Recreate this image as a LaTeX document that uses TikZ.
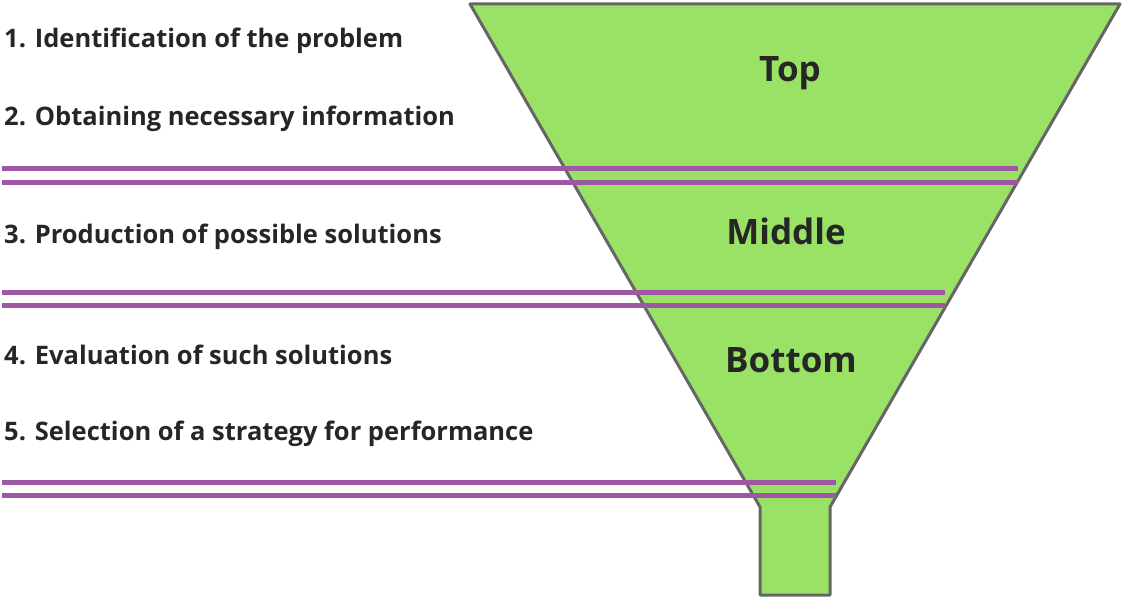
\documentclass[tikz,border=0pt]{standalone}
\usepackage{fontspec}
\setmainfont{Open Sans}
\usepackage{xcolor}
\definecolor{funnelgreen}{HTML}{99E265}
\definecolor{funnelgray}{HTML}{666666}
\definecolor{stagepurple}{HTML}{9E57A2}
\tikzset{>=latex}
\begin{document}
\begin{tikzpicture}[x=1pt, y=-1pt,
	stage/.style={anchor=west, font=\bfseries\fontsize{25.5}{30}\selectfont, text=black!85, inner sep=0pt},
	level/.style={font=\bfseries\fontsize{35}{40}\selectfont, text=black!85, inner sep=0pt},
	cut/.style={line width=5pt, draw=stagepurple}]
	\useasboundingbox (0,0) rectangle (1124,599);
	\coordinate[](a) at (470,4);
	\coordinate[](b) at (1120,4);
	\coordinate[](c) at (830,507);
	\coordinate[](d) at (760,507);

	% Funnel
	\filldraw[fill=funnelgreen, line width=3pt, draw=funnelgray, line join=round]
	(a) -- (b) -- (c) -- (830,595) -- (760,595) -- (d) -- cycle;

	% Levels
	\node[level] (top) at (790,73) {Top};
	\node[level] (middle) at (786,231) {Middle};
	\node[level] (bottom) at (791,360) {Bottom};

	% Steps
	\node[stage] (s1) at (4,41) {1. Identification of the problem};
	\node[stage] (s2) at (4,119) {2. Obtaining necessary information};
	\node[stage] (s3) at (4,237) {3. Production of possible solutions};
	\node[stage] (s4) at (4,355) {4. Evaluation of such solutions};
	\node[stage] (s5) at (4,434) {5. Selection of a strategy for performance};

	% Separators
	\foreach \y/\x in {168/1018, 182/1018, 292/945, 305/945, 482/836, 495/836}
	{
	\draw[cut] (2,\y) -- (\x,\y);
	}
\end{tikzpicture}
\end{document}
